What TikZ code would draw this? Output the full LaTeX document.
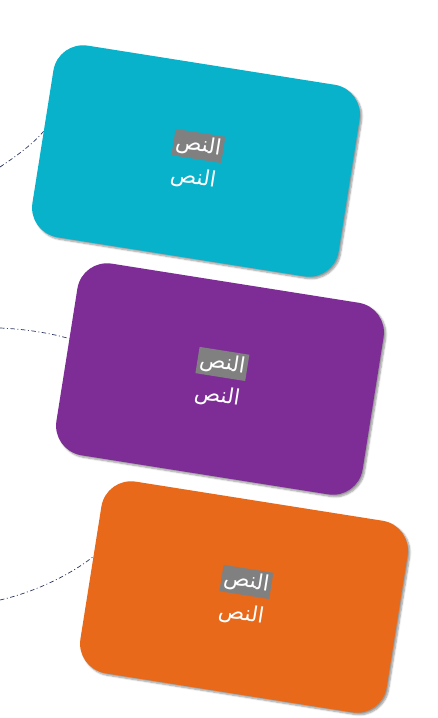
\documentclass[tikz,border=0pt]{standalone}
\usepackage{fontspec}
\newfontfamily\arabicfont[Script=Arabic]{DejaVu Sans}
\TeXXeTstate=1
\usetikzlibrary{shadows.blur}
\definecolor{boxcyan}{HTML}{08B2CB}
\definecolor{boxpurple}{HTML}{7E2D97}
\definecolor{boxorange}{HTML}{E8691A}
\definecolor{hlgray}{HTML}{808080}
\definecolor{linknavy}{HTML}{2A3560}
\newcommand{\artext}{\beginR النص\endR}
\newcommand{\hlword}{{\setlength{\fboxsep}{2.5pt}\colorbox{hlgray}{\artext}}}
\tikzset{
  card/.style={rectangle, rounded corners=30pt, minimum width=310pt,
    minimum height=194pt, rotate=-9, text=white, align=center,
    font=\arabicfont\fontsize{21.5}{33}\selectfont,
    blur shadow={shadow xshift=2pt, shadow yshift=-2pt,
      shadow blur steps=6, shadow opacity=40}},
  link/.style={draw=linknavy, line width=0.7pt,
    dash pattern=on 4.5pt off 2.5pt on 1pt off 2.5pt}
}
\begin{document}
\begin{tikzpicture}[x=1pt,y=-1pt]
\useasboundingbox (0,0) rectangle (438,718);
\node[card, fill=boxcyan]   (c1) at (196,161) {\hlword\\\artext};
\node[card, fill=boxpurple] (c2) at (220,379) {\hlword\\\artext};
\node[card, fill=boxorange] (c3) at (244,597) {\hlword\\\artext};
\coordinate (s1) at (0,167);
\coordinate (s2) at (0,328);
\coordinate (s3) at (0,600);
\draw[link] (s1) .. controls (15,157) and (32,145) .. (c1.178);
\draw[link] (s2) .. controls (25,329) and (50,333) .. (c2.174);
\draw[link] (s3) .. controls (35,592) and (70,575) .. (c3.174);
\end{tikzpicture}
\end{document}
